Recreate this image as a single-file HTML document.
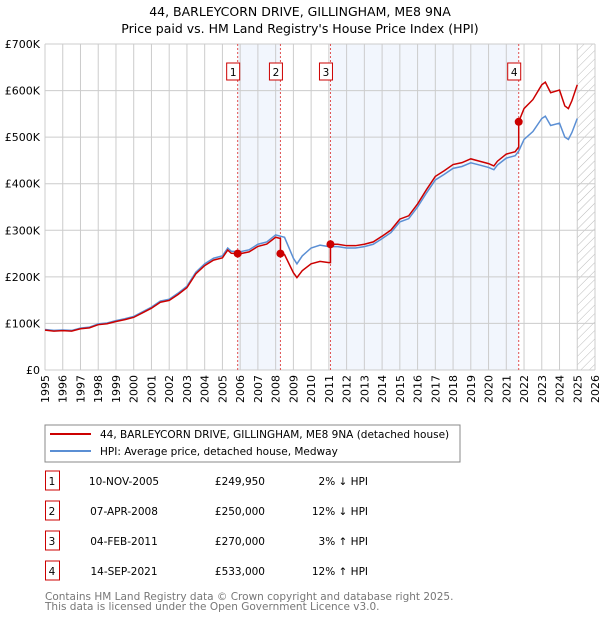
<!DOCTYPE html>
<html><head><meta charset="utf-8"><style>
body{margin:0;background:#fff;font-family:"Liberation Sans","DejaVu Sans",sans-serif;}
svg text{font-family:"DejaVu Sans","Liberation Sans",sans-serif;}
</style></head><body>
<svg id="c" width="600" height="620" xmlns="http://www.w3.org/2000/svg">
<defs><pattern id="hatch" width="6" height="6" patternUnits="userSpaceOnUse" patternTransform="rotate(45)"><line x1="0" y1="0" x2="0" y2="6" stroke="#bbb" stroke-width="1"/></pattern></defs>
<text x="300" y="16" text-anchor="middle" font-size="12.5">44, BARLEYCORN DRIVE, GILLINGHAM, ME8 9NA</text>
<text x="300" y="33" text-anchor="middle" font-size="12.5">Price paid vs. HM Land Registry's House Price Index (HPI)</text>
<g id="plot"></g>
<rect x="45" y="425" width="415" height="37" fill="#fff" stroke="#888"/>
<line x1="50" y1="434" x2="91" y2="434" stroke="#cc0000" stroke-width="2"/>
<text x="100" y="438" font-size="10.5">44, BARLEYCORN DRIVE, GILLINGHAM, ME8 9NA (detached house)</text>
<line x1="50" y1="451" x2="91" y2="451" stroke="#5b8fd4" stroke-width="2"/>
<text x="100" y="455" font-size="10.5">HPI: Average price, detached house, Medway</text>
<g id="table"></g>
<text x="45" y="600" font-size="10.5" fill="#777">Contains HM Land Registry data © Crown copyright and database right 2025.</text>
<text x="45" y="610" font-size="10.5" fill="#777">This data is licensed under the Open Government Licence v3.0.</text>
</svg>
<script>
const hpiYears=[1995,1995.5,1996,1996.5,1997,1997.5,1998,1998.5,1999,1999.5,2000,2000.5,2001,2001.5,2002,2002.5,2003,2003.5,2004,2004.5,2005,2005.3,2005.5,2006,2006.5,2007,2007.5,2008,2008.5,2009,2009.2,2009.5,2010,2010.5,2011,2011.5,2012,2012.5,2013,2013.5,2014,2014.5,2015,2015.5,2016,2016.5,2017,2017.5,2018,2018.5,2019,2019.5,2020,2020.3,2020.5,2021,2021.5,2021.7,2022,2022.5,2023,2023.2,2023.5,2024,2024.3,2024.5,2024.7,2025];
const hpiValues=[87,85,86,85,90,92,99,101,106,110,115,125,135,148,152,165,180,210,228,240,245,262,255,254,258,270,275,290,285,240,228,245,262,268,265,265,262,262,265,270,282,295,318,325,350,380,408,420,433,437,445,440,435,430,440,455,460,470,495,512,540,545,525,530,500,495,510,540];
const saleLabels=["1","2","3","4"];
const saleYears=[2005.86,2008.27,2011.09,2021.7];
const salePrices=[249.95,250,270,533];
const saleDates=["10-NOV-2005","07-APR-2008","04-FEB-2011","14-SEP-2021"];
const salePriceText=["£249,950","£250,000","£270,000","£533,000"];
const saleHpiText=["2% ↓ HPI","12% ↓ HPI","3% ↑ HPI","12% ↑ HPI"];
const yTicks=[0,100,200,300,400,500,600,700];
const yTickLabels=["£0","£100K","£200K","£300K","£400K","£500K","£600K","£700K"];
const xTicks=[1995,1996,1997,1998,1999,2000,2001,2002,2003,2004,2005,2006,2007,2008,2009,2010,2011,2012,2013,2014,2015,2016,2017,2018,2019,2020,2021,2022,2023,2024,2025,2026];

const NS="http://www.w3.org/2000/svg";
const X0=45,X1=595,Y0=370,Y1=44;
const xs=y=>X0+(y-1995)/(2026-1995)*(X1-X0);
const ys=v=>Y0-v/700*(Y0-Y1);
const g=document.getElementById('plot');
function mk(t,a,p){const e=document.createElementNS(NS,t);for(const k in a)e.setAttribute(k,a[k]);(p||g).appendChild(e);return e;}
function hpiAt(y){for(let i=1;i<hpiYears.length;i++){if(y<=hpiYears[i]){const t=(y-hpiYears[i-1])/(hpiYears[i]-hpiYears[i-1]);return hpiValues[i-1]+t*(hpiValues[i]-hpiValues[i-1]);}}return hpiValues[hpiValues.length-1];}
for(const [a,b] of [[0,1],[2,3]]){
 const r=mk('rect',{x:xs(saleYears[a]),y:Y1,width:xs(saleYears[b])-xs(saleYears[a]),height:Y0-Y1,fill:'#f2f6fd'});
 
 
}
const h=mk('rect',{x:xs(2025),y:Y1,width:X1-xs(2025),height:Y0-Y1,fill:'url(#hatch)'});


xTicks.forEach(t=>{
 const l=mk('line',{x1:xs(t),x2:xs(t),y1:Y1,y2:Y0,stroke:'#ccc','stroke-width':1});
 
 
 const tx=mk('text',{x:0,y:0,'text-anchor':'end','font-size':11,transform:'translate('+(xs(t)+4)+','+(Y0+5)+') rotate(-90)'});
 
 
 tx.textContent=t;
});
yTicks.forEach((t,i)=>{
 const l=mk('line',{x1:X0,x2:X1,y1:ys(t),y2:ys(t),stroke:'#ccc','stroke-width':1});
 
 
 const tx=mk('text',{x:X0-5,y:ys(t)+4,'text-anchor':'end','font-size':11});
 
 
 tx.textContent=yTickLabels[i];
});
saleYears.forEach((s,i)=>{
 const l=mk('line',{x1:xs(s),x2:xs(s),y1:Y1,y2:Y0,stroke:'#e05050','stroke-width':1,'stroke-dasharray':'2,2'});
 
 
 const bx=mk('rect',{x:xs(s)-11,y:63,width:13,height:17,fill:'#fff',stroke:'#cc0000'});
 
 
 const tx=mk('text',{x:xs(s)-4.5,y:76,'text-anchor':'middle','font-size':10.5});
 
 
 tx.textContent=saleLabels[i];
});
const hp=mk('polyline',{points:hpiYears.map((y,i)=>xs(y)+','+ys(hpiValues[i])).join(' '),fill:'none',stroke:'#5b8fd4','stroke-width':1.5});


const ratios=saleYears.map((s,i)=>salePrices[i]/hpiAt(s));
const pts=[];
hpiYears.forEach((y,i)=>{
 let k=0;for(let j=0;j<saleYears.length;j++)if(y>=saleYears[j])k=j;
 saleYears.forEach((s,j)=>{if(s>(pts.length?pts[pts.length-1][0]:0)&&s<=y&&!pts.some(p=>p[0]===s)){pts.push([s,hpiAt(s)*(j>0?ratios[j-1]:ratios[0])]);pts.push([s,salePrices[j]]);}});
 pts.push([y,hpiValues[i]*ratios[k]]);
});
const rl=mk('polyline',{points:pts.map(p=>xs(p[0])+','+ys(p[1])).join(' '),fill:'none',stroke:'#cc0000','stroke-width':1.5});


saleYears.forEach((s,i)=>{
 const c=mk('circle',{cx:xs(s),cy:ys(salePrices[i]),r:4,fill:'#cc0000'});
 
 
});
const tb=document.getElementById('table');
saleLabels.forEach((lab,i)=>{
 const y=483+i*30;
 const b=mk('rect',{x:45.5,y:y-12,width:14,height:19,fill:'#fff',stroke:'#cc0000'},tb);
 
 
 const cols=[[52,lab,'middle'],[124,saleDates[i],'middle'],[265,salePriceText[i],'end'],[368,saleHpiText[i],'end']];
 cols.forEach(([x,t,a],ci)=>{
  const tx=mk('text',{x:x,y:y+2,'text-anchor':a,'font-size':10.5},tb);
  
  
  tx.textContent=t;
 });
});
</script>
</body></html>
